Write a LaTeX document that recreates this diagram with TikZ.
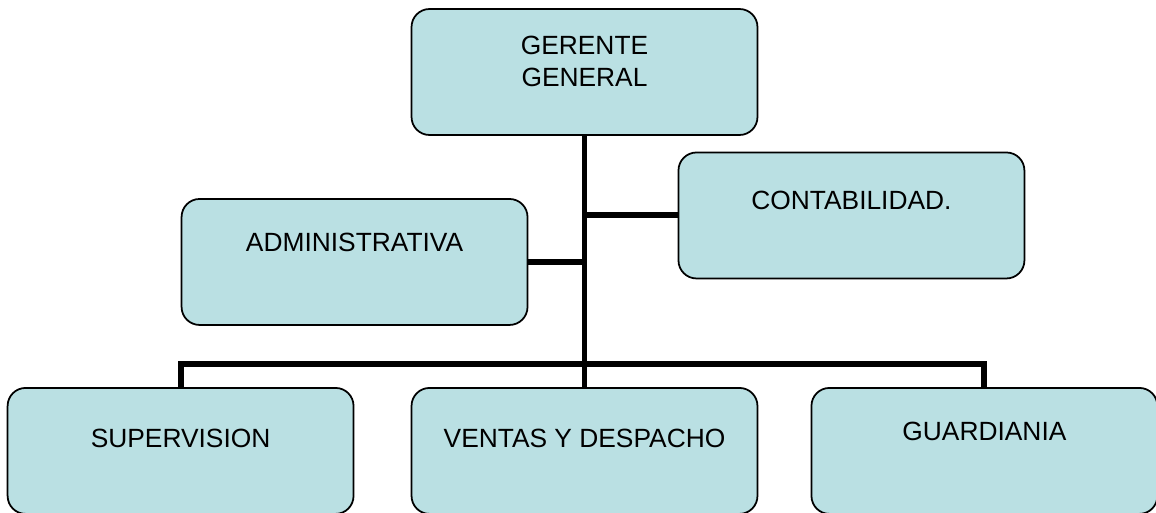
\documentclass[tikz,border=0pt]{standalone}
\usepackage{fontspec}
\setmainfont{Liberation Sans}
\usepackage{xcolor}
\definecolor{paleCyan}{RGB}{186, 224, 227}

\begin{document}
\begin{tikzpicture}
    [
        x=0.02cm, y=-0.02cm,
        node distance=7.58cm,
        place/.style={
            draw, rectangle, rounded corners=0.36cm, fill=paleCyan,
            line width=1pt, minimum width=6.92cm, minimum height=2.52cm,
            font=\fontsize{15}{18}\selectfont,
            text height=0.38cm, text depth=0.6cm
        },
        link/.style={line width=3.4pt}
    ]

\useasboundingbox (0,0) rectangle (1156,513);

% Nodes
\node (gerente) [
        place, text width=6cm, align=center, text depth=1.08cm
    ] at (584.5,72) {GERENTE\\GENERAL};

\node (ventas) [
		place, below of=gerente, text depth=0.52cm
	] {VENTAS Y DESPACHO};

\node (supervision) [
		place, left of=ventas, node distance=8.08cm, text depth=0.52cm
	] {SUPERVISION};

\node (guardiania) [
		place, right of=ventas, node distance=8cm, text depth=0.78cm
	] {GUARDIANIA};

\node (admin) [
		place, below of=gerente, node distance=3.8cm, xshift=-4.6cm,
        text depth=0.8cm
	] {ADMINISTRATIVA};

\node (conta) [
		place, below of=gerente, node distance=2.87cm, xshift=5.34cm,
        text depth=0.62cm
	] {CONTABILIDAD.};

\coordinate (bus) at (584.5,364);

% Lines
\draw [link] (gerente.south) -- (ventas.north);
\draw [link] (conta.west) -- (conta.west -| gerente.south);
\draw [link] (admin.east) -- (admin.east -| gerente.south);
\draw [link] (supervision.north) |- (bus) -| (guardiania.north);

\end{tikzpicture}
\end{document}
